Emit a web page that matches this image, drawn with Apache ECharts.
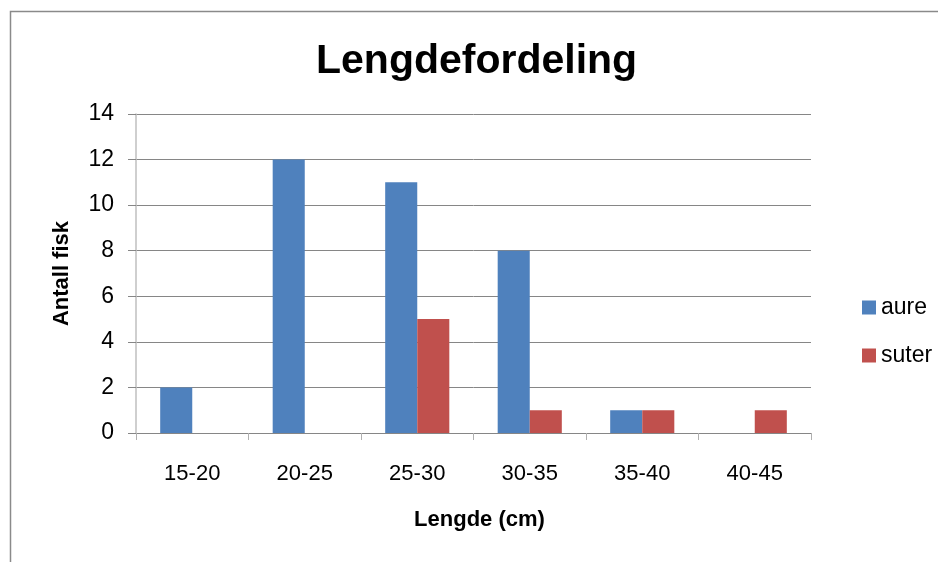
<!DOCTYPE html>
<html>
<head>
<meta charset="utf-8">
<script src="https://cdn.jsdelivr.net/npm/echarts@6/dist/echarts.min.js"></script>
<style>
  html, body { margin: 0; padding: 0; background: #fff; }
  #chart { width: 938px; height: 562px; }
</style>
</head>
<body>
<div id="chart"></div>
<script>
// Length classes (cm) and fish counts per species
const categories = ['15-20', '20-25', '25-30', '30-35', '35-40', '40-45'];
const aure = [2, 12, 11, 8, 1, 0];
const suter = [0, 0, 5, 1, 1, 1];
const yTicks = { min: 0, max: 14, interval: 2 };

const font = '"Liberation Sans", "DejaVu Sans", sans-serif';
const chart = echarts.init(document.getElementById('chart'), null, { renderer: 'canvas' });

chart.setOption({
  backgroundColor: '#ffffff',
  animation: false,
  textStyle: { fontFamily: font },
  title: {
    text: 'Lengdefordeling',
    left: 316,
    top: 41,
    padding: 0,
    textStyle: { fontFamily: font, fontSize: 41, fontWeight: 'bold', color: '#000' }
  },
  graphic: [{
    type: 'rect',
    shape: { x: 10.5, y: 11.5, width: 1000, height: 1000 },
    style: { fill: 'none', stroke: '#8a8a8a', lineWidth: 1.5 },
    silent: true
  }],
  legend: {
    orient: 'vertical',
    left: 857,
    top: 291,
    itemWidth: 14,
    itemHeight: 14,
    itemGap: 25,
    icon: 'rect',
    textStyle: { fontFamily: font, fontSize: 23, color: '#000' },
    data: ['aure', 'suter']
  },
  grid: { left: 136, right: 127, top: 114, bottom: 129, containLabel: false },
  xAxis: {
    type: 'category',
    data: categories,
    name: 'Lengde (cm)',
    nameLocation: 'middle',
    nameGap: 76,
    nameTextStyle: { fontFamily: font, fontSize: 22, fontWeight: 'bold', color: '#000', padding: [0, 0, 0, 12] },
    axisLine: { lineStyle: { color: '#868686', width: 1 } },
    axisTick: { show: true, length: 7, alignWithLabel: false, lineStyle: { color: '#b0b0b0' } },
    axisLabel: { fontFamily: font, fontSize: 22, color: '#000', margin: 30 }
  },
  yAxis: {
    type: 'value',
    min: yTicks.min,
    max: yTicks.max,
    interval: yTicks.interval,
    name: 'Antall fisk',
    nameLocation: 'middle',
    nameGap: 63,
    nameTextStyle: { fontFamily: font, fontSize: 22, fontWeight: 'bold', color: '#000' },
    axisLine: { show: true, lineStyle: { color: '#bfbfbf', width: 1.5 } },
    axisTick: { show: true, length: 8, lineStyle: { color: '#868686' } },
    axisLabel: { fontFamily: font, fontSize: 23, color: '#000', margin: 22 },
    splitLine: { lineStyle: { color: '#868686', width: 1 } }
  },
  series: [
    {
      name: 'aure',
      type: 'bar',
      data: aure,
      barGap: '0%',
      barCategoryGap: '43%',
      itemStyle: { color: '#4f81bd' }
    },
    {
      name: 'suter',
      type: 'bar',
      data: suter,
      itemStyle: { color: '#c0504d' }
    }
  ]
});
</script>
</body>
</html>
